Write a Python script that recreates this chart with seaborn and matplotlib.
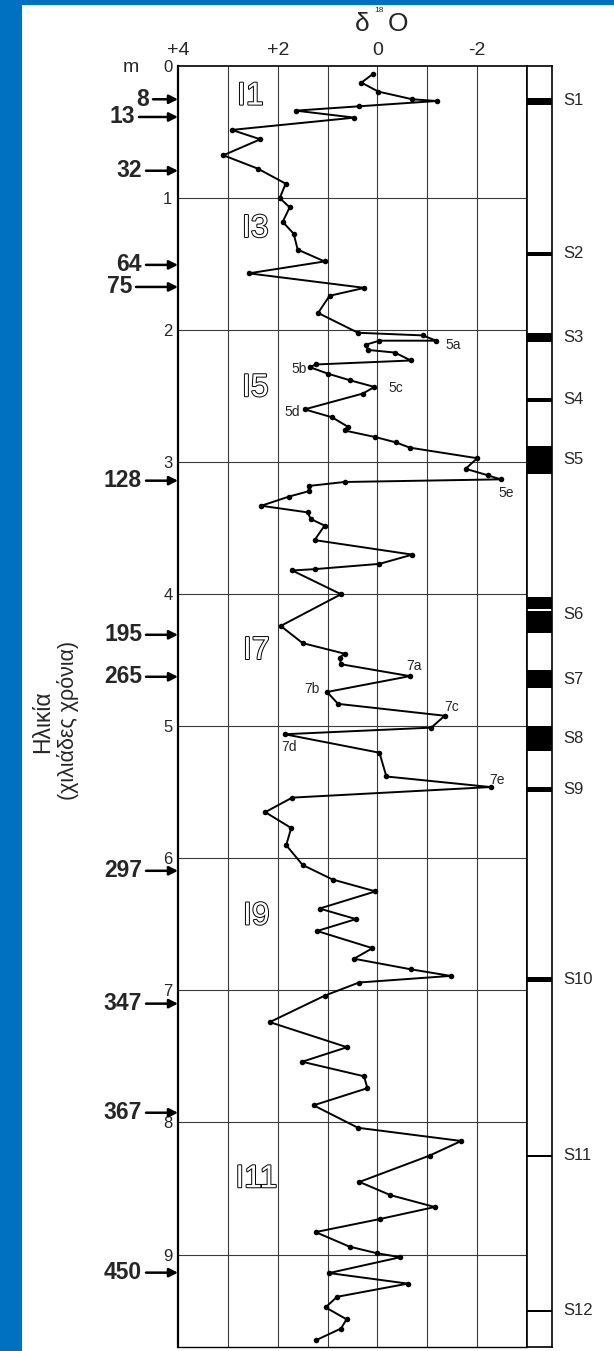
import numpy as np
import pandas as pd
import matplotlib
matplotlib.use("Agg")
import matplotlib.pyplot as plt
import matplotlib.transforms as mtransforms
import matplotlib.patheffects as pe
from matplotlib.patches import Rectangle
import seaborn as sns

# ---------------- data ----------------
depth_m = [0.06, 0.126, 0.194, 0.252, 0.265, 0.305, 0.338, 0.391, 0.484, 0.555,
           0.676, 0.777, 0.891, 1.00, 1.07, 1.18, 1.27, 1.39, 1.48, 1.57,
           1.68, 1.74, 1.87, 2.02, 2.04, 2.08, 2.08, 2.11, 2.15, 2.17,
           2.23, 2.26, 2.28, 2.33, 2.38, 2.43, 2.48, 2.60, 2.66, 2.73,
           2.76, 2.81, 2.85, 2.89, 2.97, 3.05, 3.10, 3.13, 3.15, 3.18,
           3.22, 3.26, 3.33, 3.38, 3.43, 3.48, 3.59, 3.70, 3.77, 3.81,
           3.82, 4.00, 4.24, 4.37, 4.45, 4.48, 4.53, 4.62, 4.74, 4.83,
           4.92, 5.01, 5.06, 5.20, 5.38, 5.46, 5.54, 5.65, 5.77, 5.90,
           6.05, 6.16, 6.25, 6.38, 6.46, 6.55, 6.68, 6.76, 6.84, 6.89,
           6.94, 7.04, 7.24, 7.43, 7.54, 7.65, 7.74, 7.87, 8.04, 8.14,
           8.25, 8.45, 8.55, 8.64, 8.73, 8.83, 8.94, 8.99, 9.02, 9.14,
           9.22, 9.32, 9.40, 9.49, 9.56, 9.65]
d18o = [0.09, 0.32, -0.02, -0.70, -1.19, 0.36, 1.64, 0.46, 2.92, 2.35,
        3.09, 2.40, 1.84, 1.96, 1.76, 1.90, 1.68, 1.60, 1.06, 2.58,
        0.26, 0.96, 1.19, 0.39, -0.91, -1.18, -0.04, 0.23, 0.19, -0.35,
        -0.67, 1.23, 1.36, 0.99, 0.55, 0.06, 0.29, 1.46, 0.91, 0.60,
        0.66, 0.04, -0.37, -0.65, -2.00, -1.77, -2.22, -2.47, 0.66, 1.38,
        1.38, 1.77, 2.33, 1.40, 1.34, 1.06, 1.26, -0.70, -0.04, 1.26,
        1.71, 0.73, 1.94, 1.50, 0.66, 0.76, 0.73, -0.65, 1.01, 0.79,
        -1.35, -1.08, 1.86, -0.04, -0.18, -2.27, 1.71, 2.25, 1.73, 1.83,
        1.50, 0.90, 0.04, 1.16, 0.43, 1.21, 0.10, 0.47, -0.67, -1.47,
        0.37, 1.06, 2.16, 0.61, 1.51, 0.27, 0.20, 1.28, 0.39, -1.68,
        -1.05, 0.36, -0.26, -1.15, -0.06, 1.24, 0.56, 0.01, -0.46, 0.97,
        -0.61, 0.81, 1.04, 0.62, 0.73, 1.24]

x_ticks = [4, 2, 0, -2]
x_tick_labels = ["+4", "+2", "0", "-2"]
depth_ticks = list(range(10))

age_labels = ["8", "13", "32", "64", "75", "128", "195", "265", "297", "347", "367", "450"]
age_depths = [0.252, 0.386, 0.793, 1.506, 1.673, 3.14, 4.307, 4.625, 6.094, 7.10, 7.926, 9.137]

stage_labels = ["I1", "I3", "I5", "I7", "I9", "I11"]
stage_x = [2.55, 2.45, 2.45, 2.43, 2.43, 2.43]
stage_depth = [0.232, 1.234, 2.44, 4.43, 6.44, 8.43]

sub_labels = ["5a", "5b", "5c", "5d", "5e", "7a", "7b", "7c", "7d", "7e"]
sub_x = [-1.52, 1.566, -0.37, 1.70, -2.585, -0.73, 1.32, -1.48, 1.766, -2.40]
sub_depth = [2.112, 2.296, 2.44, 2.617, 3.235, 4.542, 4.718, 4.855, 5.16, 5.41]

band_top = [0.242, 1.408, 2.021, 2.513, 2.877, 4.02, 4.13, 4.577, 4.997, 5.458, 6.896, 8.244, 9.417]
band_bot = [0.295, 1.438, 2.089, 2.544, 3.089, 4.11, 4.29, 4.713, 5.185, 5.496, 6.934, 8.262, 9.432]
soil_labels = ["S1", "S2", "S3", "S4", "S5", "S6", "S7", "S8", "S9", "S10", "S11", "S12"]
soil_depths = [0.265, 1.42, 2.055, 2.528, 2.98, 4.155, 4.645, 5.09, 5.477, 6.915, 8.25, 9.425]

# ---------------- figure ----------------
sns.set_style("white")
plt.rcParams["font.family"] = ["Liberation Sans", "DejaVu Sans"]

W, H = 614, 1351
fig = plt.figure(figsize=(W / 100, H / 100), dpi=100, facecolor="#0070C0")
fig.patches.append(Rectangle((22 / W, 0), 1, 1 - 5 / H, transform=fig.transFigure,
                             facecolor="white", edgecolor="none", zorder=-1))

def fx(px):
    return px / W

def fy(py):
    return 1 - py / H

L, R, T, B = 178, 527, 66, 1347
ax = fig.add_axes([fx(L), fy(B), fx(R) - fx(L), fy(T) - fy(B)])
ax.set_facecolor("white")

df = pd.DataFrame({"d18O": d18o, "depth": depth_m})
sns.lineplot(data=df, x="d18O", y="depth", sort=False, estimator=None, ax=ax,
             color="black", lw=1.4, marker="o", markersize=4, markeredgewidth=0, zorder=3)

ax.set_xlim(4, -3)
ax.set_ylim(9.70, 0)
ax.set_xlabel("")
ax.set_ylabel("")

for v in range(-2, 4):
    ax.axvline(v, color="#3a3a3a", lw=0.8, zorder=1)
for m in range(1, 10):
    ax.axhline(m, color="#3a3a3a", lw=0.8, zorder=1)

ax.xaxis.tick_top()
ax.set_xticks(x_ticks)
ax.set_xticklabels(x_tick_labels, fontsize=14)
ax.tick_params(axis="x", length=0, pad=5)
ax.set_yticks(depth_ticks)
ax.set_yticklabels([str(t) for t in depth_ticks], fontsize=12)
ax.tick_params(axis="y", length=0, pad=4)
for s, lw in zip(["left", "top", "right", "bottom"], [1.6, 1.2, 1.2, 1.0]):
    ax.spines[s].set_visible(True)
    ax.spines[s].set_color("black")
    ax.spines[s].set_linewidth(lw)

blend = mtransforms.blended_transform_factory(ax.transAxes, ax.transData)
arrow_start = {"8": 153, "13": 139, "75": 136}
for lab, dep in zip(age_labels, age_depths):
    xs = arrow_start.get(lab, 146)
    xa = (xs - L) / (R - L)
    ax.annotate("", xy=(0, dep), xycoords=("axes fraction", "data"),
                xytext=(xa, dep), textcoords=("axes fraction", "data"),
                arrowprops=dict(arrowstyle="-|>", color="black", lw=1.8,
                                mutation_scale=13, shrinkA=0, shrinkB=0),
                annotation_clip=False)
    ax.text((xs - 4 - L) / (R - L), dep, lab, transform=blend, ha="right", va="center",
            fontsize=16.5, fontweight="bold")

for lab, xv, dv in zip(stage_labels, stage_x, stage_depth):
    ax.text(xv, dv, lab, ha="center", va="center", fontsize=23, color="white", zorder=4,
            path_effects=[pe.Stroke(linewidth=1.4, foreground="black"), pe.Normal()])

for lab, xv, dv in zip(sub_labels, sub_x, sub_depth):
    ax.text(xv, dv, lab, ha="center", va="center", fontsize=10, zorder=4)

# core column
cax = fig.add_axes([fx(R), fy(B), fx(552) - fx(R), fy(T) - fy(B)])
cax.set_facecolor("white")
cax.set_xlim(0, 1)
cax.set_ylim(9.70, 0)
cax.set_xticks([])
cax.set_yticks([])
for s in cax.spines.values():
    s.set_visible(True)
    s.set_color("black")
    s.set_linewidth(1.2)
for t, b in zip(band_top, band_bot):
    cax.axhspan(t, b, color="black", lw=0)
cblend = mtransforms.blended_transform_factory(cax.transAxes, cax.transData)
for lab, dv in zip(soil_labels, soil_depths):
    cax.text(1.0 + 11 / 25, dv, lab, transform=cblend, ha="left", va="center", fontsize=12)

# titles and labels
fig.text(fx(131), fy(67), "m", ha="center", va="center", fontsize=14)
fig.text(fx(362), fy(24), "δ", ha="center", va="center", fontsize=19)
fig.text(fx(398), fy(24), "O", ha="center", va="center", fontsize=19)
fig.text(fx(379), fy(10), "18", ha="center", va="center", fontsize=6)
fig.text(fx(43), fy(722), "Ηλικία", rotation=90, ha="center", va="center", fontsize=16.5)
fig.text(fx(68), fy(720), "(χιλιάδες χρόνια)", rotation=90, ha="center", va="center", fontsize=15.5)

fig.savefig("out.png", dpi=100, facecolor=fig.get_facecolor())
